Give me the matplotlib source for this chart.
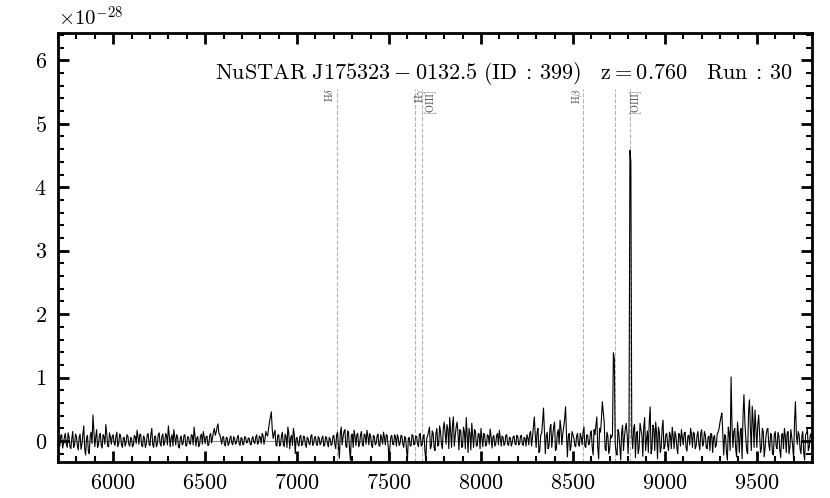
import numpy as np
import matplotlib
matplotlib.use("Agg")
import matplotlib.pyplot as plt
from matplotlib.ticker import MultipleLocator

plt.rcParams['font.family'] = 'serif'
plt.rcParams['font.serif'] = ['cmr10', 'DejaVu Serif']
plt.rcParams['mathtext.fontset'] = 'cm'
plt.rcParams['axes.formatter.use_mathtext'] = True

# flux in units of 1e-28, read off the picture block by block
# samples on the 10 A grid: 5700, 5710, ... 9800
flux_5700 = [0.05, -0.08, 0.10, -0.04, 0.12, -0.10, 0.06, -0.12, 0.15, -0.06,
             0.08, -0.14, 0.11, -0.05, 0.24, -0.22, 0.09, -0.20, 0.14, 0.41,
             -0.09, 0.18, -0.06, 0.12, -0.11, 0.07, 0.26, -0.08, 0.13, -0.05]
flux_6000 = [0.10, -0.07, 0.14, -0.04, 0.09, -0.10, 0.06, -0.03, 0.08, -0.08,
             0.04, -0.06, 0.07, 0.17, -0.05, 0.10, -0.09, 0.05, -0.04, 0.12,
             -0.07, 0.20, -0.10, 0.08, -0.05, 0.13, -0.08, 0.11, -0.03, 0.09,
             0.24, -0.09, 0.10, 0.18, -0.06, 0.07, -0.11, 0.08, -0.04, 0.10,
             -0.07, 0.06, -0.05, 0.09, 0.22, -0.08, 0.07, -0.06, 0.11, 0.15]
flux_6500 = [-0.04, 0.08, -0.06, 0.12, 0.05, 0.20, 0.14, 0.27, 0.10, -0.05,
             0.07, -0.08, 0.05, -0.04, 0.08, -0.06, 0.04, -0.03, 0.09, -0.07,
             0.05, -0.05, 0.06, -0.02, 0.04, -0.06, 0.07, -0.04, 0.10, -0.03,
             0.06, 0.12, -0.05, 0.15, 0.08, 0.30, 0.46, 0.04, 0.17, -0.08,
             0.10, -0.06, 0.14, -0.09, 0.07, 0.22, -0.12, 0.09, 0.20, -0.20]
flux_7000 = [0.06, -0.08, 0.09, -0.05, 0.07, -0.10, 0.04, -0.06, 0.10, -0.04,
             0.07, -0.07, 0.05, -0.03, 0.08, -0.06, 0.06, -0.09, 0.03, -0.05,
             0.09, -0.12, 0.14, -0.27, 0.22, 0.06, 0.18, -0.10, 0.13, -0.30,
             0.11, 0.17, -0.07, 0.12, -0.05, 0.15, -0.08, 0.10, 0.17, -0.06,
             0.08, -0.10, 0.07, -0.04, 0.11, -0.08, 0.05, 0.14, -0.06, 0.09]
flux_7500 = [-0.25, 0.07, -0.05, 0.10, -0.08, 0.06, -0.04, 0.08, -0.10, 0.05,
             -0.30, 0.06, -0.07, 0.09, -0.04, 0.07, -0.09, 0.12, -0.06, 0.10,
             -0.30, 0.08, 0.22, -0.08, 0.12, -0.15, 0.20, -0.06, 0.15, -0.12,
             0.30, -0.05, 0.18, 0.37, -0.10, 0.38, 0.08, 0.30, -0.14, 0.16,
             -0.08, 0.14, 0.37, -0.18, 0.12, 0.28, -0.10, 0.15, -0.07, 0.11]
flux_8000 = [0.20, -0.09, 0.10, -0.06, 0.08, 0.19, -0.11, 0.09, -0.05, 0.12,
             0.17, -0.08, 0.06, -0.04, 0.10, -0.07, 0.05, -0.03, 0.08, -0.06,
             0.07, -0.05, 0.09, -0.07, 0.04, 0.10, -0.06, 0.15, 0.05, 0.38,
             -0.10, 0.20, -0.15, 0.12, 0.52, -0.20, 0.14, -0.08, 0.26, 0.08,
             0.30, -0.12, 0.18, 0.33, -0.06, 0.22, 0.54, -0.25, 0.12, -0.08]
flux_8500 = [0.10, -0.07, 0.08, -0.05, 0.12, -0.06, 0.22, -0.10, 0.09, -0.04,
             0.16, -0.22, 0.10, 0.38, -0.28, 0.14, 0.62, 0.30, -0.15, 0.08,
             -0.12, 0.05, 1.39, -0.05, -0.22, 0.12, -0.30, 0.25, 0.06, 0.28,
             -0.20, 4.58, 0.10, 0.20, -0.26, 0.15, -0.10, 0.18, -0.24, 0.37,
             0.02, -0.18, 0.54, -0.12, 0.20, 0.30, -0.28, 0.14, -0.10, 0.33]
flux_9000 = [-0.08, 0.12, -0.15, 0.09, 0.22, -0.12, 0.08, -0.20, 0.10, 0.18,
             -0.06, 0.14, -0.16, 0.09, 0.20, -0.10, 0.12, -0.08, 0.15, -0.14,
             0.18, -0.05, 0.10, -0.12, 0.08, 0.12, -0.18, 0.09, -0.06, 0.14,
             0.30, 0.44, -0.22, 0.08, -0.30, 0.12, 1.01, -0.10, 0.20, -0.25,
             0.10, 0.15, -0.28, 0.73, 0.05, -0.20, 0.65, -0.15, 0.30, 0.49]
flux_9500 = [-0.10, 0.41, -0.18, 0.20, -0.25, 0.08, 0.20, -0.15, 0.10, -0.22,
             0.15, -0.12, 0.08, -0.26, 0.12, 0.20, -0.18, 0.15, -0.10, 0.06,
             -0.28, 0.62, -0.05, 0.10, -0.20, 0.15, -0.30, 0.12, -0.15, 0.08,
             -0.05]

# samples half way between: 5705, 5715, ... 9795
mid_5700 = [-0.06, 0.09, -0.11, 0.07, -0.05, 0.13, -0.09, 0.04, -0.10, 0.11,
            -0.07, 0.06, -0.13, 0.10, -0.12, 0.05, -0.16, 0.08, -0.04, 0.15,
            0.06, -0.10, 0.09, -0.07, 0.10, -0.05, 0.12, -0.09, 0.06, 0.08]
mid_6000 = [-0.03, 0.08, -0.09, 0.11, -0.06, 0.05, -0.08, 0.10, -0.05, 0.06,
            -0.09, 0.09, -0.04, 0.06, 0.11, -0.07, 0.08, -0.10, 0.09, -0.05,
            0.11, -0.06, 0.07, -0.09, 0.10, -0.04, 0.08, -0.07, 0.12, -0.06,
            0.09, 0.05, -0.08, 0.06, 0.10, -0.09, 0.05, -0.06, 0.09, -0.08,
            0.07, -0.04, 0.10, -0.06, 0.08, 0.05, -0.09, 0.08, -0.05, 0.07]
mid_6500 = [0.06, -0.07, 0.09, -0.03, 0.14, 0.09, 0.22, 0.12, 0.03, 0.06,
            -0.05, 0.06, -0.07, 0.05, -0.03, 0.07, -0.05, 0.06, -0.04, 0.05,
            -0.06, 0.07, -0.03, 0.05, -0.05, 0.04, -0.02, 0.06, -0.05, 0.08,
            -0.04, 0.09, 0.02, 0.10, 0.20, 0.38, 0.18, 0.12, -0.06, 0.09,
            -0.08, 0.08, -0.05, 0.11, -0.10, 0.12, 0.05, -0.07, 0.10, 0.04]
mid_7000 = [-0.05, 0.07, -0.07, 0.08, -0.06, 0.06, -0.04, 0.08, -0.07, 0.06,
            -0.05, 0.07, -0.06, 0.05, -0.08, 0.07, -0.04, 0.06, -0.07, 0.08,
            -0.05, 0.10, -0.08, 0.12, -0.06, 0.15, -0.08, 0.16, -0.12, 0.09,
            -0.10, 0.08, 0.10, -0.09, 0.10, -0.06, 0.11, -0.05, 0.08, 0.12,
            -0.07, 0.09, -0.06, 0.08, -0.07, 0.10, -0.05, 0.06, 0.10, -0.08]
mid_7500 = [-0.08, 0.09, -0.06, 0.07, 0.10, -0.07, 0.09, -0.05, 0.07, -0.12,
            0.04, -0.08, 0.10, -0.06, 0.08, -0.05, 0.10, -0.08, 0.06, -0.15,
            0.05, 0.15, -0.12, 0.16, -0.10, 0.12, -0.08, 0.24, -0.05, 0.20,
            0.12, 0.26, -0.12, 0.15, 0.25, -0.08, 0.22, 0.12, 0.18, -0.10,
            0.22, -0.12, 0.08, 0.20, -0.14, 0.10, 0.18, -0.08, 0.12, -0.12]
mid_8000 = [0.06, 0.12, -0.08, 0.10, -0.05, 0.07, 0.06, -0.08, 0.09, -0.06,
            0.05, 0.08, -0.07, 0.09, -0.05, 0.06, -0.08, 0.07, -0.04, 0.09,
            -0.06, 0.08, -0.05, 0.06, -0.08, 0.05, 0.12, -0.08, 0.22, 0.10,
            0.14, -0.18, 0.10, 0.30, 0.18, 0.08, -0.12, 0.20, -0.10, 0.22,
            -0.15, 0.12, -0.05, 0.20, 0.12, 0.35, 0.10, 0.08, -0.15, 0.15]
mid_8500 = [0.05, -0.09, 0.12, -0.08, 0.06, 0.14, -0.08, 0.10, -0.06, 0.12,
            -0.10, 0.18, 0.25, -0.10, 0.20, 0.35, 0.45, -0.12, 0.14, -0.20,
            0.10, 0.10, 1.30, -0.18, 0.18, -0.10, 0.14, -0.15, 0.20, 0.10,
            0.15, 4.40, -0.12, 0.26, 0.12, -0.20, 0.28, 0.10, 0.22, -0.15,
            0.16, 0.30, -0.20, 0.25, -0.15, 0.12, 0.22, -0.18, 0.20, -0.12]
mid_9000 = [0.10, -0.06, 0.14, -0.12, 0.08, 0.15, -0.10, 0.12, -0.08, 0.06,
            0.12, -0.10, 0.08, -0.06, 0.10, 0.14, -0.12, 0.09, -0.05, 0.12,
            -0.08, 0.15, -0.10, 0.06, -0.15, 0.10, 0.06, -0.10, 0.12, 0.20,
            0.38, 0.12, 0.10, -0.18, 0.22, -0.15, 0.25, 0.15, -0.12, 0.30,
            -0.18, 0.20, 0.40, 0.30, -0.15, 0.45, 0.20, 0.55, -0.10, 0.20]
mid_9500 = [0.25, 0.10, -0.12, 0.15, -0.10, 0.18, -0.05, 0.12, -0.20, 0.10,
            -0.08, 0.14, -0.15, 0.10, -0.12, 0.08, 0.12, -0.20, 0.18, -0.08,
            0.30, 0.10, 0.15, -0.12, 0.08, -0.18, 0.10, 0.20, -0.10, 0.12]

flux_grid = (flux_5700 + flux_6000 + flux_6500 + flux_7000 + flux_7500
             + flux_8000 + flux_8500 + flux_9000 + flux_9500)
flux_mid = (mid_5700 + mid_6000 + mid_6500 + mid_7000 + mid_7500
            + mid_8000 + mid_8500 + mid_9000 + mid_9500)

wave = np.concatenate([np.arange(5700, 9801, 10), np.arange(5705, 9800, 10)])
flux = np.array(flux_grid + flux_mid)
order = np.argsort(wave)
wave, flux = wave[order], flux[order]

# emission lines, observed wavelength at z = 0.760
z = 0.760
line_names = [r'H$\delta$', r'H$\gamma$', '[OIII]', r'H$\beta$', '', '[OIII]']
line_rest = [4102.0, 4341.0, 4363.0, 4861.0, 4959.0, 5007.0]
label_dx = [-8, 5, 8, -5, 0, 5]  # label nudge in pixels

fig = plt.figure(figsize=(8.3, 4.98), dpi=100)
ax = fig.add_axes([0.0699, 0.0723, 0.9084, 0.8614])

ax.axhline(0, color='0.55', lw=0.8, zorder=1)
for name, rest, dx in zip(line_names, line_rest, label_dx):
    obs = rest * (1 + z)
    ax.axvline(obs, ymax=0.87, color='0.7', ls='--', lw=0.8, zorder=1)
    if name:
        ax.annotate(name, xy=(obs, 0.872), xycoords=('data', 'axes fraction'),
                    xytext=(dx, 0), textcoords='offset pixels',
                    rotation=90, ha='center', va='top', fontsize=7.5,
                    color='0.3')

ax.plot(wave, flux, color='black', lw=0.8, zorder=2)

ax.set_xlim(5700, 9800)
ax.set_ylim(-0.33, 6.43)

ax.text(0.975, 0.905,
        r'$\mathrm{NuSTAR\ J175323-0132.5\ (ID\::\:399)\quad z=0.760\quad Run\::\:30}$',
        transform=ax.transAxes, ha='right', va='center', fontsize=16)
fig.text(58 / 830, 1 - 26 / 498, r'$\times10^{-28}$', ha='left',
         va='baseline', fontsize=15)

ax.xaxis.set_major_locator(MultipleLocator(500))
ax.xaxis.set_minor_locator(MultipleLocator(100))
ax.yaxis.set_major_locator(MultipleLocator(1))
ax.yaxis.set_minor_locator(MultipleLocator(0.2))
ax.tick_params(which='both', direction='in', top=True, right=True,
               labelsize=16)
ax.tick_params(which='major', length=8, width=2)
ax.tick_params(which='minor', length=4.5, width=1.5)
ax.tick_params(axis='x', pad=8)
ax.tick_params(axis='y', pad=8)
for sp in ax.spines.values():
    sp.set_linewidth(2)

fig.savefig('out.png', dpi=100)
